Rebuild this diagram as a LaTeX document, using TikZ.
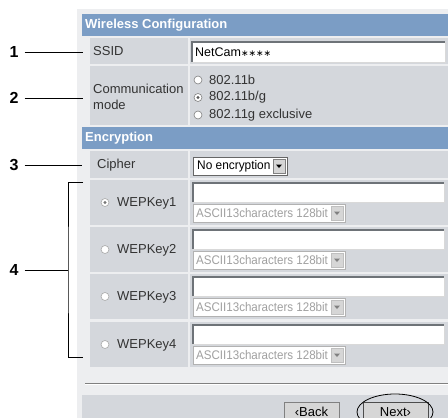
\documentclass[tikz,border=0pt]{standalone}
\usepackage{fontspec}
\setmainfont{Liberation Sans}
\newfontfamily\djv{DejaVu Sans}
\definecolor{outerbg}{HTML}{EDEEF0}
\definecolor{hdr}{HTML}{7B9DC5}
\definecolor{cellbg}{HTML}{D4D7DC}
\definecolor{dimtxt}{HTML}{A0A0A0}
\definecolor{sunk}{HTML}{6E7378}
\definecolor{btnbg}{HTML}{D6D6D6}
\definecolor{radioa}{HTML}{808080}
\definecolor{radiob}{HTML}{A8A8A8}
\newcommand\uitextbox[4]{% x1 y1 x2 y2
  \fill[white] (#1,#2) rectangle (#3,#4);
  \draw[sunk,line width=1.2pt] (#1,#4) -- (#1,#2) -- (#3,#2);
  \draw[white!85!black,line width=0.8pt] (#3,#2) -- (#3,#4) -- (#1,#4);}
\newcommand\uidrop[5]{% x1 y1 x2 y2 colour
  \fill[white] (#1,#2) rectangle (#3,#4);
  \draw[#5!60!white,line width=0.8pt] (#1,#2) rectangle (#3,#4);
  \fill[btnbg] (#3-14,#2+2) rectangle (#3-2,#4-2);
  \draw[#5!50!white,line width=0.6pt] (#3-14,#2+2) rectangle (#3-2,#4-2);
  \fill[#5] ({#3-11},{(#2+#4)/2-1.5}) -- ({#3-5},{(#2+#4)/2-1.5}) -- ({#3-8},{(#2+#4)/2+2}) -- cycle;}
\newcommand\uiradio[4]{% x y selected colour
  \fill[white] (#1,#2) circle[radius=4];
  \draw[#4,line width=0.6pt] (#1,#2) circle[radius=4];
  \ifnum#3=1 \fill[#4!70!black] (#1,#2) circle[radius=1.6];\fi}
\begin{document}
\begin{tikzpicture}[x=1pt,y=-1pt,
  every node/.style={inner sep=0pt,font=\fontsize{13}{15}\selectfont},
  lbl/.style={anchor=west,text=black!80},
  hdrtxt/.style={anchor=west,text=white,font=\fontsize{13}{15}\selectfont\bfseries},
  num/.style={font=\fontsize{16}{18}\selectfont\bfseries},
  callout/.style={line width=0.8pt,black},
  dimlbl/.style={anchor=west,text=dimtxt,font=\fontsize{12.5}{14}\selectfont}]
\useasboundingbox (0,0) rectangle (448,418);
\fill[white] (0,0) rectangle (448,418);
\fill[outerbg] (77,9) rectangle (448,418);
% Wireless configuration
\fill[hdr] (82,14) rectangle (448,36);
\node[hdrtxt] (h1) at (85,25.5) {Wireless Configuration};
\fill[cellbg] (90,38) rectangle (188,64);
\fill[cellbg] (190,38) rectangle (448,64);
\fill[cellbg] (90,66) rectangle (188,125);
\fill[cellbg] (190,66) rectangle (448,125);
\node[lbl] (ssid) at (93,51.5) {SSID};
\uitextbox{192}{42}{445}{62}
\node[anchor=west,font=\fontsize{12.5}{14}\selectfont] (ssidv) at (195,52.5) {NetCam{\djv\fontsize{9}{10}\selectfont ∗∗∗∗}};
\node[lbl] (comm1) at (93,88.5) {Communication};
\node[lbl] (comm2) at (93,104.5) {mode};
\uiradio{198}{80}{0}{radioa}
\uiradio{198}{97.5}{1}{radioa}
\uiradio{198}{115}{0}{radioa}
\node[lbl] (m1) at (209,80) {802.11b};
\node[lbl] (m2) at (209,97.5) {802.11b/g};
\node[lbl] (m3) at (209,115) {802.11g exclusive};
% Encryption
\fill[hdr] (82,127) rectangle (448,149);
\node[hdrtxt] (h2) at (85,138.5) {Encryption};
\fill[cellbg] (90,151) rectangle (188,178);
\fill[cellbg] (190,151) rectangle (448,178);
\node[lbl] (cipher) at (97,165) {Cipher};
\uidrop{193}{157}{287}{175}{black}
\node[anchor=west,font=\fontsize{12.5}{14}\selectfont] (cipv) at (197,166) {\scalebox{0.95}[1]{No encryption}};
\foreach \t/\k/\s in {180/1/1,227/2/0,274/3/0,322/4/0}{
  \fill[cellbg] (90,\t) rectangle (188,\t+45);
  \fill[cellbg] (190,\t) rectangle (448,\t+45);
  \uiradio{105}{\t+22.5}{\s}{radiob}
  \node[lbl] (wep\k) at (117,\t+23) {WEPKey\k};
  \uitextbox{193}{\t+3}{444}{\t+22}
  \uidrop{193}{\t+24}{345}{\t+42}{gray}
  \node[dimlbl] (asc\k) at (196,\t+33.5) {\scalebox{0.925}[1]{ASCII13characters 128bit}};
}
% bottom
\draw[gray,line width=0.8pt] (85,383) -- (448,383);
\draw[white,line width=0.8pt] (85,384.2) -- (448,384.2);
\fill[cellbg] (82,395) rectangle (448,418);
\fill[btnbg] (284,402) rectangle (339,420);
\draw[gray,line width=0.8pt] (284,420) -- (284,402) -- (339,402) -- (339,420);
\node (back) at (311.5,412) {‹Back};
\fill[btnbg] (363,402) rectangle (428,420);
\draw[black!70,line width=1pt] (363,420) -- (363,402) -- (428,402) -- (428,420);
\node (next) at (395.5,412) {Next›};
\draw[black,line width=0.8pt] (395,412) ellipse [x radius=38, y radius=18];
% callouts
\node[num] (n1) at (14,52) {1};
\node[num] (n2) at (14,98) {2};
\node[num] (n3) at (14,165) {3};
\node[num] (n4) at (14,270) {4};
\coordinate (c1) at (83,52);
\coordinate (c2) at (83,98);
\coordinate (c3) at (82,165);
\coordinate (c4) at (68,270);
\coordinate (b1) at (83,182);
\coordinate (b2) at (83,357);
\draw[callout] ([xshift=6pt]n1.east) -- (c1);
\draw[callout] ([xshift=6pt]n2.east) -- (c2);
\draw[callout] ([xshift=6pt]n3.east) -- (c3);
\draw[callout] ([xshift=6pt]n4.east) -- (c4);
\draw[callout] (b1) -| (c4) |- (b2);
\end{tikzpicture}
\end{document}
